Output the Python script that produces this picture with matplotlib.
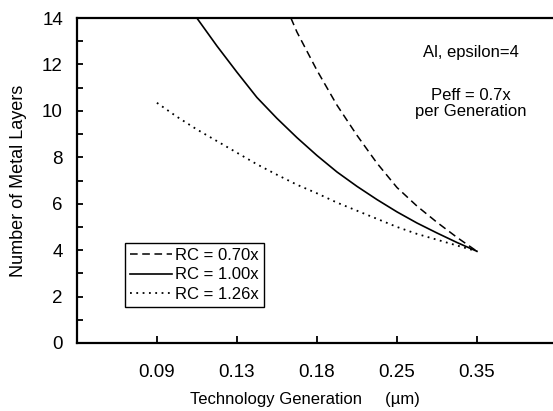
import matplotlib
matplotlib.use("Agg")
import matplotlib.pyplot as plt
from matplotlib.ticker import MultipleLocator

plt.rcParams['font.family'] = ['Liberation Sans', 'DejaVu Sans']

# Technology generations (evenly spaced categories on the x axis)
generations = ["0.09", "0.13", "0.18", "0.25", "0.35"]
gen_pos = [1, 2, 3, 4, 5]

# Curves; x in generation-index units (1 = 0.09 ... 5 = 0.35)
rc070_x = [2.675, 2.75, 3.0, 3.25, 3.5, 3.75, 4.0, 4.25, 4.5, 4.75, 5.0]
rc070_y = [14.0, 13.4, 11.75, 10.25, 8.95, 7.75, 6.7, 5.9, 5.2, 4.55, 3.95]

rc100_x = [1.5, 1.75, 2.0, 2.25, 2.5, 2.75, 3.0, 3.25, 3.5, 3.75, 4.0, 4.25, 4.5, 4.75, 5.0]
rc100_y = [14.0, 12.8, 11.67, 10.58, 9.68, 8.85, 8.08, 7.37, 6.75, 6.18, 5.65, 5.17, 4.74, 4.33, 3.95]

rc126_x = [1.0, 1.25, 1.5, 1.75, 2.0, 2.25, 2.5, 2.75, 3.0, 3.25, 3.5, 3.75, 4.0, 4.25, 4.5, 4.75, 5.0]
rc126_y = [10.35, 9.75, 9.2, 8.7, 8.2, 7.7, 7.25, 6.82, 6.45, 6.05, 5.7, 5.35, 5.0, 4.7, 4.45, 4.2, 3.95]

labels = ["RC = 0.70x", "RC = 1.00x", "RC = 1.26x"]

fig = plt.figure(figsize=(5.53, 4.11), dpi=100)
ax = fig.add_axes([0.139, 0.1655, 0.861, 0.7905])

ax.plot(rc070_x, rc070_y, color='black', lw=1.1, linestyle=(0, (5, 3)), label=labels[0])
ax.plot(rc100_x, rc100_y, color='black', lw=1.2, linestyle='-', label=labels[1])
ax.plot(rc126_x, rc126_y, color='black', lw=1.3, linestyle=(0, (1, 2.5)), label=labels[2])

ax.set_xlim(0, 5.95)
ax.set_ylim(0, 14)
ax.set_xticks(gen_pos)
ax.set_xticklabels(generations)
ax.yaxis.set_major_locator(MultipleLocator(2))
ax.yaxis.set_minor_locator(MultipleLocator(1))

ax.spines['right'].set_visible(False)
for s in ['left', 'bottom', 'top']:
    ax.spines[s].set_linewidth(1.6)

ax.tick_params(axis='x', direction='in', length=5, width=1.3, labelsize=13.5, pad=15, top=False)
ax.tick_params(axis='y', which='major', direction='in', length=4, width=1.3, labelsize=13.5, pad=10)
ax.tick_params(axis='y', which='minor', direction='in', length=4, width=1.3)

ax.set_xlabel("Technology Generation     (\u00b5m)", fontsize=12, labelpad=8, x=0.479)
ax.set_ylabel("Number of Metal Layers", fontsize=13, labelpad=11)

ax.text(4.92, 12.5, "Al, epsilon=4", fontsize=12, ha='center', va='center')
ax.text(4.92, 10.32, "Peff = 0.7x\nper Generation", fontsize=12, ha='center', va='center',
        linespacing=1.15)

leg = ax.legend(loc='lower left', bbox_to_anchor=(0.101, 0.112), fontsize=12,
                frameon=True, fancybox=False, edgecolor='black', framealpha=1,
                handlelength=2.5, handletextpad=0.2, borderpad=0.3, labelspacing=0.25,
                borderaxespad=0)
leg.get_frame().set_linewidth(1.0)

fig.savefig("out.png", dpi=100)
